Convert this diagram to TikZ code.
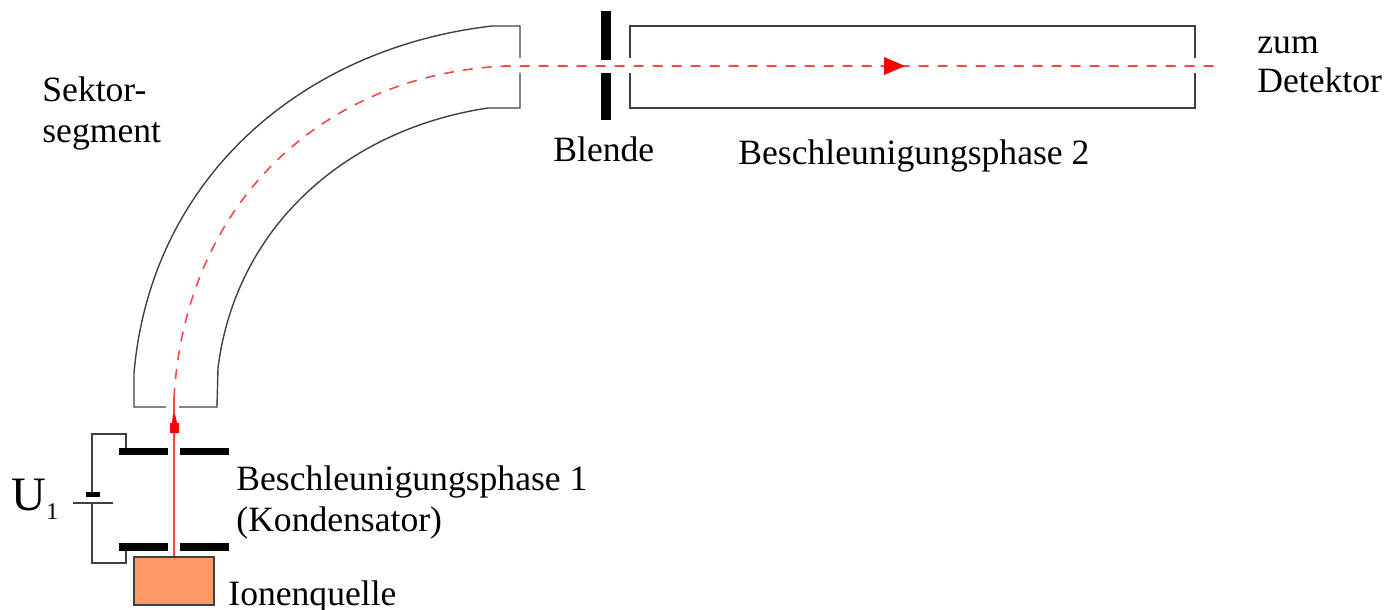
\documentclass[tikz,border=0pt]{standalone}
\usepackage{fontspec}
\setmainfont{Liberation Serif}
\definecolor{beamred}{RGB}{255,70,70}
\definecolor{sourceorange}{RGB}{255,153,102}
\tikzset{
  wall/.style={draw=black!75,line width=0.7pt},
  plate/.style={fill=black},
  beam/.style={draw=beamred,line width=0.8pt},
  txt/.style={anchor=base west,inner sep=0pt,font=\fontsize{17.8}{20}\selectfont}
}
\begin{document}
\begin{tikzpicture}[x=0.5pt,y=-0.5pt,line cap=butt,line join=miter]
        \useasboundingbox (0,0) rectangle (1387,610);
        % sector segment
        \draw[wall] (166,407)-- (134,407)-- (134,373) .. controls (151,178) and (302,48) .. (492,26)-- (520,26)-- (520,58);
        \draw[wall] (520,73)-- (520,108)-- (488,108) .. controls (348,129) and (236,225) .. (218,368)-- (217,407)-- (179,407);
        % second phase
        \draw[wall] (630,58)-- (630,26)-- (1195,26)-- (1195,58);
        \draw[wall] (630,73)-- (630,108)-- (1195,108)-- (1195,73);
        % aperture
        \fill[plate] (601,11) rectangle (611,60);
        \fill[plate] (601,73) rectangle (611,120);
        % capacitor plates
        \fill[plate] (119,448) rectangle (168,455);
        \fill[plate] (180,448) rectangle (229,455);
        \fill[plate] (119,543) rectangle (168,551);
        \fill[plate] (180,543) rectangle (229,551);
        % circuit
        \draw[wall] (126,448)-- (126,434)-- (92,434)-- (92,493);
        \draw[wall] (92,503)-- (92,563)-- (126,563)-- (126,551);
        \fill[plate] (86,492) rectangle (100,497);
        \draw[wall] (73,503)-- (113,503);
        % ion source
        \draw[wall,fill=sourceorange] (134,557) rectangle (214,605);
        % ion path
        \draw[beam] (174,556)-- (174,398);
        \draw[beam,dash pattern=on 5pt off 4.5pt] (174,398) .. controls (185,205) and (320,75) .. (505,66)-- (1222,66);
        \fill[red] (170,433) -- (179,433) -- (179,423) -- (177,423) -- (175,414) -- (173,414) -- (172,423) -- (170,423) -- cycle;
        \fill[red] (884,57) -- (905,66) -- (884,75) -- cycle;
        % labels
        \node[txt] (sektor) at (42,102) {Sektor-};
        \node[txt] (segment) at (42,142) {segment};
        \node[txt] (blende) at (553,162) {Blende};
        \node[txt] (phasetwo) at (738,164) {Beschleunigungsphase 2};
        \node[txt] (zum) at (1257,54) {zum};
        \node[txt] (detektor) at (1257,93) {Detektor};
        \node[txt] (phaseone) at (236,490) {Beschleunigungsphase 1};
        \node[txt] (kondensator) at (236,531) {(Kondensator)};
        \node[txt] (quelle) at (228,605) {Ionenquelle};
        \node[txt,font=\fontsize{24}{26}\selectfont] (spannung) at (11,510) {U};
        \node[txt,font=\fontsize{12}{14}\selectfont] (index) at (46,519) {1};
      \end{tikzpicture}
\end{document}
